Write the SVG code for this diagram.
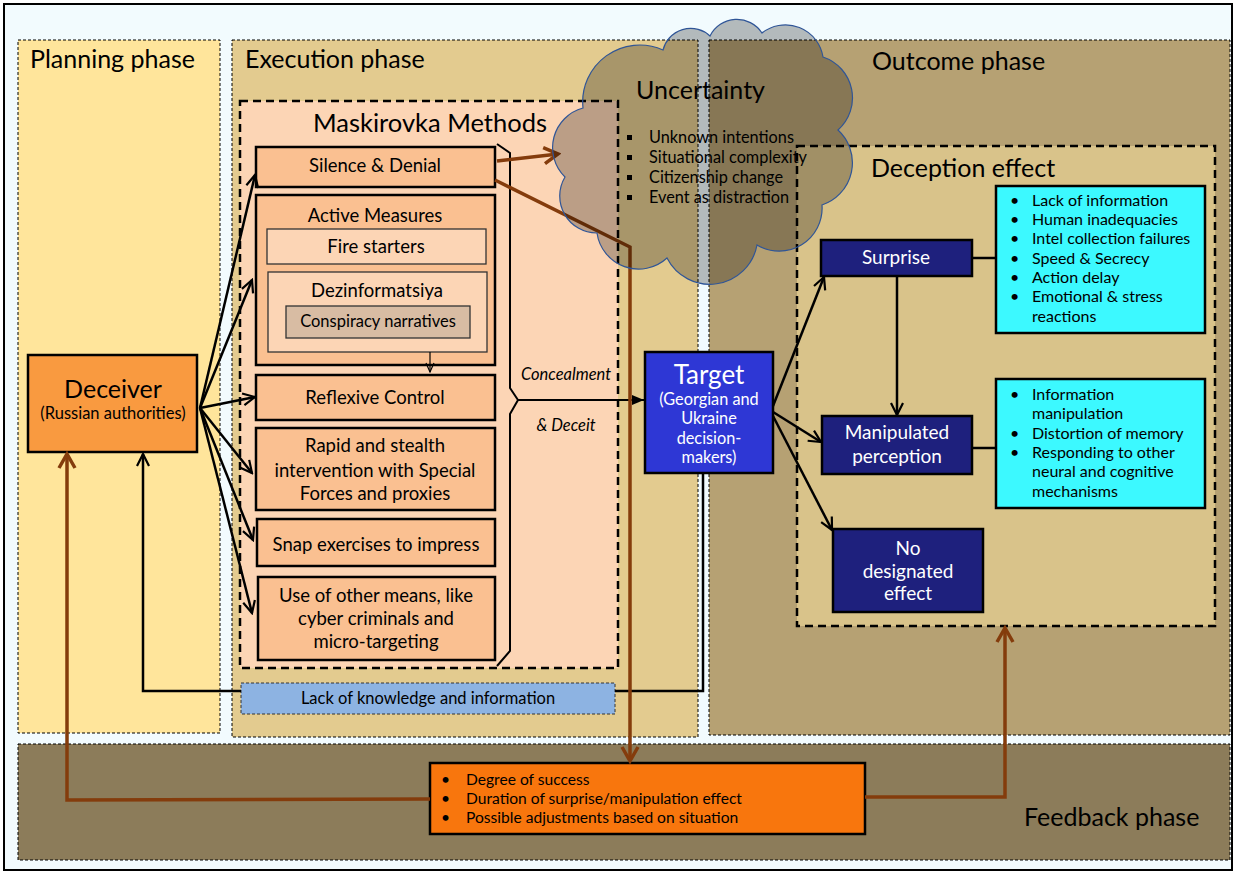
<svg xmlns="http://www.w3.org/2000/svg" width="1236" height="872" viewBox="0 0 1236 872">
<defs>
<style>
text{font-family:Lato,"Open Sans","Liberation Sans",sans-serif;fill:#000}
.phase{stroke:#000;stroke-width:1;stroke-dasharray:3,2}
.big{font-size:25px}
.m{fill:#FAC091;stroke:#000;stroke-width:2.5}
.sub{fill:#FCD5B5;stroke:#333;stroke-width:1.3}
.t17{font-size:18.5px;text-anchor:middle}
.t15{font-size:16px}
.w{fill:#fff}
.navy{fill:#1E207D;stroke:#000;stroke-width:2.5}
.cyan{fill:#3CF9FF;stroke:#000;stroke-width:2.5}
.blk{fill:none;stroke:#000;stroke-width:2.5}
.brn{fill:none;stroke:#843C0C;stroke-width:3.5}
.it{font-size:16.5px;font-style:italic;text-anchor:middle}
</style>
<marker id="ah" markerUnits="userSpaceOnUse" markerWidth="16" markerHeight="16" viewBox="0 0 16 16" refX="14" refY="8" orient="auto">
<path d="M2,2 L14,8 L2,14" fill="none" stroke="#000" stroke-width="2.2"/>
</marker>
<marker id="ahs" markerUnits="userSpaceOnUse" markerWidth="12" markerHeight="12" viewBox="0 0 12 12" refX="11" refY="6" orient="auto">
<path d="M2,2 L11,6 L2,10" fill="none" stroke="#000" stroke-width="1.2"/>
</marker>
<marker id="ahf" markerUnits="userSpaceOnUse" markerWidth="14" markerHeight="14" viewBox="0 0 14 14" refX="13" refY="7" orient="auto">
<path d="M1,2 L13,7 L1,12 Z" fill="#000"/>
</marker>
<marker id="ahb" markerUnits="userSpaceOnUse" markerWidth="20" markerHeight="20" viewBox="0 0 20 20" refX="17" refY="10" orient="auto">
<path d="M3,2 L17,10 L3,18" fill="none" stroke="#843C0C" stroke-width="3.5"/>
</marker>
</defs>
<rect x="0" y="0" width="1236" height="872" fill="#fff"/>
<rect x="4" y="4" width="1228" height="866" fill="#F2FBFE" stroke="#000" stroke-width="2"/>

<g id="planning-phase">
<rect class="phase" x="18" y="40" width="202" height="693" fill="#FFE59B"/>
<text class="big" x="30" y="68">Planning phase</text>
</g>
<g id="execution-phase">
<rect class="phase" x="232" y="40" width="466" height="697" fill="#E3CB8F"/>
<text class="big" x="245" y="68">Execution phase</text>
</g>
<g id="outcome-phase">
<rect class="phase" x="709" y="40" width="521" height="695" fill="#B6A173"/>
<text class="big" x="872" y="70">Outcome phase</text>
</g>
<g id="feedback-phase">
<rect class="phase" x="18" y="744" width="1212" height="116" fill="#8C7C5A"/>
<text class="big" x="1024" y="826">Feedback phase</text>
</g>

<g id="maskirovka">
<rect x="240" y="101" width="378" height="567" fill="#FCD5B5" stroke="#000" stroke-width="2.5" stroke-dasharray="8,5"/>
<text x="430" y="132" font-size="25.5" text-anchor="middle">Maskirovka Methods</text>
</g>
<g id="silence-denial">
<rect class="m" x="256" y="147" width="239" height="40"/>
<text class="t17" x="375" y="172">Silence &amp; Denial</text>
</g>
<g id="active-measures">
<rect class="m" x="256" y="195" width="239" height="170"/>
<text class="t17" x="375" y="222">Active Measures</text>
</g>
<g id="fire-starters">
<rect class="sub" x="267" y="229" width="219" height="35"/>
<text class="t17" x="376" y="253">Fire starters</text>
</g>
<g id="dezinformatsiya">
<rect class="sub" x="268" y="272" width="219" height="80"/>
<text class="t17" x="377" y="297">Dezinformatsiya</text>
</g>
<g id="conspiracy">
<rect x="286" y="306" width="184" height="32" fill="#D8BCA3" stroke="#333" stroke-width="1.3"/>
<text x="378" y="327" font-size="16.5" text-anchor="middle">Conspiracy narratives</text>
</g>
<g id="reflexive-control">
<rect class="m" x="256" y="375" width="239" height="45"/>
<text class="t17" x="375" y="404">Reflexive Control</text>
</g>
<g id="rapid-intervention">
<rect class="m" x="256" y="428" width="239" height="82"/>
<text class="t17" x="375" y="452">Rapid and stealth</text>
<text class="t17" x="375" y="477">intervention with Special</text>
<text class="t17" x="375" y="500">Forces and proxies</text>
</g>
<g id="snap-exercises">
<rect class="m" x="257" y="519" width="238" height="47"/>
<text class="t17" x="376" y="551">Snap exercises to impress</text>
</g>
<g id="other-means">
<rect class="m" x="258" y="577" width="237" height="83"/>
<text class="t17" x="376" y="602">Use of other means, like</text>
<text class="t17" x="376" y="625">cyber criminals and</text>
<text class="t17" x="376" y="648">micro-targeting</text>
</g>
<g id="brace">
<path d="M497,144 L510,153 L510,388 L518,400 L510,414 L510,651 L497,666" fill="none" stroke="#000" stroke-width="2"/>
<text class="it" x="566" y="380">Concealment</text>
<text class="it" x="566" y="431">&amp; Deceit</text>
</g>

<g id="lack-knowledge">
<rect x="241" y="683" width="374" height="31" fill="#8DB3E2" stroke="#333" stroke-width="1" stroke-dasharray="3,2"/>
<text x="428" y="704" font-size="16.5" text-anchor="middle">Lack of knowledge and information</text>
</g>

<g id="deceiver">
<rect x="28" y="355" width="169" height="97" fill="#F99A40" stroke="#000" stroke-width="2.5"/>
<text x="113" y="398" font-size="25" text-anchor="middle">Deceiver</text>
<text x="113" y="419" font-size="16.5" text-anchor="middle">(Russian authorities)</text>
</g>

<g id="target">
<rect x="645" y="352" width="128" height="121" fill="#2E37D5" stroke="#000" stroke-width="2.5"/>
<text class="w" x="709" y="384" font-size="26" text-anchor="middle">Target</text>
<text class="w" x="709" y="405" font-size="16.3" text-anchor="middle">(Georgian and</text>
<text class="w" x="709" y="424" font-size="16.3" text-anchor="middle">Ukraine</text>
<text class="w" x="709" y="444" font-size="16.3" text-anchor="middle">decision-</text>
<text class="w" x="709" y="463" font-size="16.3" text-anchor="middle">makers)</text>
</g>

<g id="deception-effect">
<rect x="797" y="146" width="418" height="480" fill="#D9C38A" stroke="#000" stroke-width="2.5" stroke-dasharray="8,5"/>
<text class="big" x="871" y="177">Deception effect</text>
</g>
<g id="surprise">
<rect class="navy" x="821" y="240" width="151" height="36"/>
<text class="w" x="896" y="264" font-size="19" text-anchor="middle">Surprise</text>
</g>
<g id="surprise-factors">
<rect class="cyan" x="996" y="186" width="209" height="147"/>
<g class="t15">
<text x="1010" y="206">•</text><text x="1032" y="206">Lack of information</text>
<text x="1010" y="225">•</text><text x="1032" y="225">Human inadequacies</text>
<text x="1010" y="244">•</text><text x="1032" y="244">Intel collection failures</text>
<text x="1010" y="264">•</text><text x="1032" y="264">Speed &amp; Secrecy</text>
<text x="1010" y="283">•</text><text x="1032" y="283">Action delay</text>
<text x="1010" y="302">•</text><text x="1032" y="302">Emotional &amp; stress</text>
<text x="1032" y="322">reactions</text>
</g>
</g>
<g id="manipulated-perception">
<rect class="navy" x="822" y="416" width="150" height="58"/>
<text class="w" x="897" y="439" font-size="19" text-anchor="middle">Manipulated</text>
<text class="w" x="897" y="463" font-size="19" text-anchor="middle">perception</text>
</g>
<g id="perception-factors">
<rect class="cyan" x="996" y="379" width="209" height="129"/>
<g class="t15">
<text x="1010" y="400">•</text><text x="1032" y="400">Information</text>
<text x="1032" y="419">manipulation</text>
<text x="1010" y="439">•</text><text x="1032" y="439">Distortion of memory</text>
<text x="1010" y="458">•</text><text x="1032" y="458">Responding to other</text>
<text x="1032" y="477">neural and cognitive</text>
<text x="1032" y="497">mechanisms</text>
</g>
</g>
<g id="no-effect">
<rect class="navy" x="833" y="529" width="150" height="83"/>
<text class="w" x="908" y="555" font-size="19" text-anchor="middle">No</text>
<text class="w" x="908" y="578" font-size="19" text-anchor="middle">designated</text>
<text class="w" x="908" y="600" font-size="19" text-anchor="middle">effect</text>
</g>

<g id="feedback-box">
<rect x="430" y="763" width="435" height="71" fill="#F8760D" stroke="#000" stroke-width="2.5"/>
<g font-size="15.6">
<text x="441" y="785">•</text><text x="466" y="785">Degree of success</text>
<text x="441" y="804">•</text><text x="466" y="804">Duration of surprise/manipulation effect</text>
<text x="441" y="823">•</text><text x="466" y="823">Possible adjustments based on situation</text>
</g>
</g>

<g id="connectors">
<line class="blk" x1="200" y1="408" x2="255" y2="175" marker-end="url(#ah)"/>
<line class="blk" x1="200" y1="408" x2="252" y2="280" marker-end="url(#ah)"/>
<line class="blk" x1="200" y1="408" x2="255" y2="397" marker-end="url(#ah)"/>
<line class="blk" x1="200" y1="408" x2="252" y2="473" marker-end="url(#ah)"/>
<line class="blk" x1="200" y1="408" x2="253" y2="540" marker-end="url(#ah)"/>
<line class="blk" x1="200" y1="408" x2="252" y2="613" marker-end="url(#ah)"/>
<line x1="430" y1="352" x2="430" y2="372" stroke="#000" stroke-width="1.2" marker-end="url(#ahs)"/>
<line x1="518" y1="400" x2="644" y2="400" stroke="#000" stroke-width="2.2" marker-end="url(#ahf)"/>
<line class="blk" x1="773" y1="406" x2="824" y2="277" marker-end="url(#ah)"/>
<line class="blk" x1="773" y1="412" x2="821" y2="442" marker-end="url(#ah)"/>
<line class="blk" x1="773" y1="416" x2="832" y2="530" marker-end="url(#ah)"/>
<line class="blk" x1="897" y1="277" x2="897" y2="415" marker-end="url(#ah)"/>
<line class="blk" x1="972" y1="258" x2="996" y2="258"/>
<line class="blk" x1="972" y1="448" x2="996" y2="448"/>
<polyline class="blk" points="703,473 703,691 615,691"/>
<polyline class="blk" points="241,691 143,691 143,454" marker-end="url(#ah)"/>
<line class="brn" x1="497" y1="161" x2="558" y2="154" marker-end="url(#ahb)"/>
<polyline class="brn" points="495,180 630,247 630,761" marker-end="url(#ahb)"/>
<polyline class="brn" points="430,799 67,800 67,454" marker-end="url(#ahb)"/>
<polyline class="brn" points="865,797 1005,797 1005,628" marker-end="url(#ahb)"/>
</g>

<g id="uncertainty">
<path d="M583,108 A57,57 0 0 1 663,50 A28.5,28.5 0 0 1 710,36 A30,30 0 0 1 762,33 A38,38 0 0 1 823,57 A43,43 0 0 1 838,130 A44.5,44.5 0 0 1 822,205 A43,43 0 0 1 757,245 A48,48 0 0 1 667,258 A42,42 0 0 1 597,233 A37,37 0 0 1 565,177 A41,41 0 0 1 583,108 Z" fill="#000" fill-opacity="0.26" stroke="#2F5597" stroke-width="1.2"/>
<text x="636" y="99" font-size="25">Uncertainty</text>
<g font-size="16.3">
<rect x="627" y="135" width="5" height="5"/><text x="649" y="143">Unknown intentions</text>
<rect x="627" y="155" width="5" height="5"/><text x="649" y="163">Situational complexity</text>
<rect x="627" y="175" width="5" height="5"/><text x="649" y="183">Citizenship change</text>
<rect x="627" y="195" width="5" height="5"/><text x="649" y="203">Event as distraction</text>
</g>
</g>
</svg>
